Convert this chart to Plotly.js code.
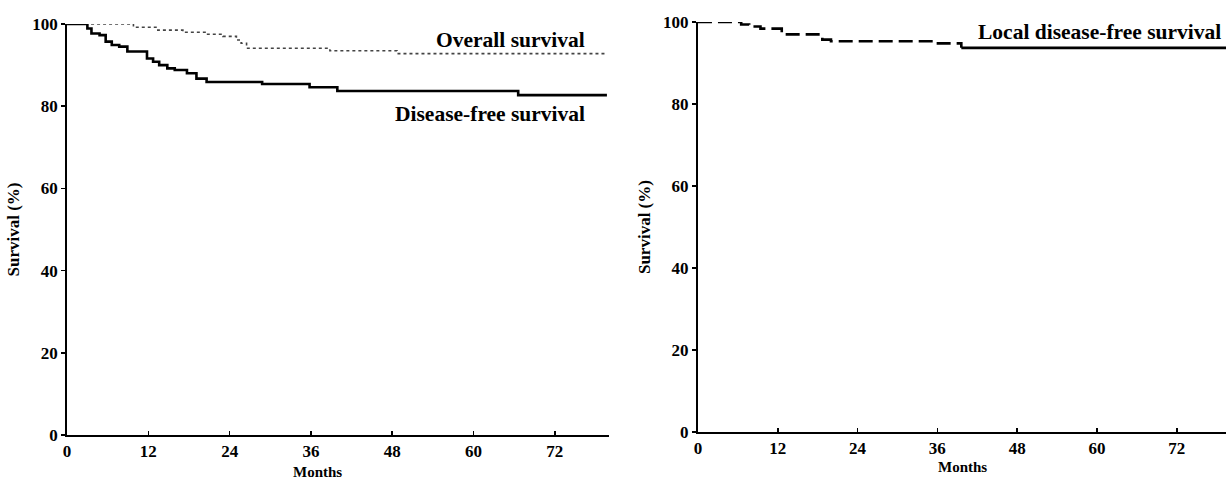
<!DOCTYPE html>
<html>
<head>
<meta charset="utf-8">
<script src="https://cdn.plot.ly/plotly-3.0.1.min.js"></script>
<style>html,body{margin:0;padding:0;background:#fff;}#chart{width:1226px;height:479px;}</style>
</head>
<body>
<div id="chart"></div>
<script>
// Overall survival (step curve, months vs %)
const osMonths = [0, 9.8, 13.4, 17.1, 20.6, 23.0, 25.0, 25.7, 26.5, 38.8, 48.7, 79.7];
const osValues = [100, 99.2, 98.5, 98.0, 97.5, 97.0, 96.1, 95.3, 94.1, 93.5, 92.8, 92.8];

// Disease-free survival
const dfsMonths = [0, 3.0, 3.6, 4.8, 5.7, 6.6, 7.7, 8.9, 11.8, 12.7, 13.6, 14.8, 15.9, 17.7, 19.1, 20.6, 28.8, 35.8, 39.9, 66.6, 79.7];
const dfsValues = [100, 98.9, 97.7, 97.3, 95.7, 94.9, 94.5, 93.3, 91.6, 90.8, 90.0, 89.2, 88.8, 88.0, 86.7, 85.9, 85.4, 84.6, 83.7, 82.7, 82.7];

// Local disease-free survival
const ldfsMonths = [0, 6.5, 7.7, 9.4, 12.6, 18.7, 20.0, 35.5, 39.6, 80];
const ldfsValues = [100, 99.4, 98.9, 98.4, 97.0, 95.7, 95.3, 94.8, 93.7, 93.7];

const xTicks = [0, 12, 24, 36, 48, 60, 72];
const yTicks = [0, 20, 40, 60, 80, 100];
const labels = {
  os: "Overall survival",
  dfs: "Disease-free survival",
  ldfs: "Local disease-free survival",
  xTitle: "Months",
  yTitle: "Survival (%)"
};

const FONT = "Liberation Serif, Times New Roman, serif";
const splitIdx = ldfsMonths.indexOf(39.6);

const traces = [
  {x: osMonths, y: osValues, xaxis: 'x', yaxis: 'y', mode: 'lines',
   line: {shape: 'hv', color: '#444', width: 1.6, dash: 'dot'}, hoverinfo: 'skip'},
  {x: dfsMonths, y: dfsValues, xaxis: 'x', yaxis: 'y', mode: 'lines',
   line: {shape: 'hv', color: '#000', width: 2.6}, hoverinfo: 'skip'},
  {x: ldfsMonths.slice(0, splitIdx + 1), y: ldfsValues.slice(0, splitIdx + 1), xaxis: 'x2', yaxis: 'y2', mode: 'lines',
   line: {shape: 'hv', color: '#000', width: 2.6, dash: '14px,6px'}, hoverinfo: 'skip'},
  {x: ldfsMonths.slice(splitIdx), y: ldfsValues.slice(splitIdx), xaxis: 'x2', yaxis: 'y2', mode: 'lines',
   line: {shape: 'hv', color: '#000', width: 2.6}, hoverinfo: 'skip'}
];

const axisCommon = {
  showgrid: false, zeroline: false, showline: true, linecolor: '#000', linewidth: 2,
  tickfont: {family: FONT, size: 17, color: '#000', weight: 'bold'},
  tickcolor: '#000', tickwidth: 1.5
};

function xAxis(domain, anchor) {
  return Object.assign({}, axisCommon, {
    domain: domain, anchor: anchor, range: [0, 80], tickmode: 'array', tickvals: xTicks,
    ticktext: xTicks.map(String), ticks: 'inside', ticklen: 4
  });
}
function yAxis(domain, anchor) {
  return Object.assign({}, axisCommon, {
    domain: domain, anchor: anchor, range: [0, 100], tickmode: 'array', tickvals: yTicks,
    ticktext: yTicks.map(String), ticks: 'outside', ticklen: 4,
    title: {text: labels.yTitle, font: {family: FONT, size: 17, color: '#000', weight: 'bold'}, standoff: 8}
  });
}

const annFont = {family: FONT, size: 21.5, color: '#000', weight: 'bold'};
const titleFont = {family: FONT, size: 15, color: '#000', weight: 'bold'};
const layout = {
  width: 1226, height: 479,
  margin: {l: 0, r: 0, t: 0, b: 0},
  paper_bgcolor: '#fff', plot_bgcolor: '#fff',
  showlegend: false,
  xaxis: xAxis([0.0547, 0.4967], 'y'),
  yaxis: yAxis([0.0919, 0.9499], 'x'),
  xaxis2: Object.assign(xAxis([0.5693, 1.0], 'y2'), {range: [0, 79.4]}),
  yaxis2: yAxis([0.098, 0.954], 'x2'),
  annotations: [
    {text: labels.os, xref: 'x', yref: 'y', x: 76.8, y: 96.1, xanchor: 'right', yanchor: 'middle', showarrow: false, font: annFont},
    {text: labels.dfs, xref: 'x', yref: 'y', x: 76.8, y: 78.1, xanchor: 'right', yanchor: 'middle', showarrow: false, font: annFont},
    {text: labels.ldfs, xref: 'x2', yref: 'y2', x: 79.0, y: 97.6, xanchor: 'right', yanchor: 'middle', showarrow: false, font: annFont},
    {text: labels.xTitle, xref: 'x', yref: 'paper', x: 37, y: 0.015, xanchor: 'center', yanchor: 'middle', showarrow: false, font: titleFont},
    {text: labels.xTitle, xref: 'x2', yref: 'paper', x: 39.8, y: 0.025, xanchor: 'center', yanchor: 'middle', showarrow: false, font: titleFont}
  ]
};

Plotly.newPlot('chart', traces, layout, {staticPlot: true, displayModeBar: false});
</script>
</body>
</html>
